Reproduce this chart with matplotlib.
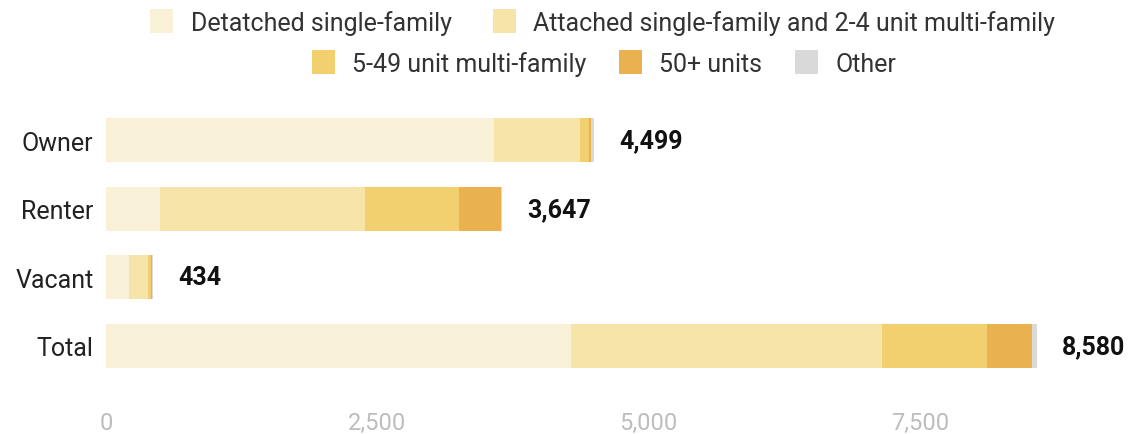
import matplotlib
matplotlib.use("Agg")
import matplotlib.pyplot as plt
import numpy as np

plt.rcParams['font.family'] = ['Roboto', 'DejaVu Sans']

# Housing units by tenure and structure type
categories = ["Owner", "Renter", "Vacant", "Total"]
series_names = [
    "Detatched single-family",
    "Attached single-family and 2-4 unit multi-family",
    "5-49 unit multi-family",
    "50+ units",
    "Other",
]
detached = [3570, 500, 210]
attached = [800, 1890, 175]
mid_multi = [80, 860, 30]
large_multi = [15, 390, 12]
other = [34, 7, 7]

colors = ["#F8F1D7", "#F7E4A9", "#F2D06F", "#EAB24F", "#D9D9D9"]
x_ticks = [0, 2500, 5000, 7500]

rows = [detached, attached, mid_multi, large_multi, other]
# Add a "Total" entry to each series
series = [np.array(r + [sum(r)], dtype=float) for r in rows]
totals = np.sum(series, axis=0)

W, H = 1133, 435
fig = plt.figure(figsize=(W / 100, H / 100), dpi=100)
ax_left, ax_right = 106, 1083
ax_top, ax_bottom = 100, 395
ax = fig.add_axes([ax_left / W, 1 - ax_bottom / H,
                   (ax_right - ax_left) / W, (ax_bottom - ax_top) / H])

y = np.arange(len(categories))
left = np.zeros(len(categories))
handles = []
for name, vals, c in zip(series_names, series, colors):
    b = ax.barh(y, vals, left=left, height=0.64, color=c, label=name,
                linewidth=0)
    handles.append(b)
    left += vals

for yi, t in zip(y, totals):
    ax.text(t + 230, yi, f"{int(round(t)):,}", va="center", ha="left",
            fontsize=18, fontweight="bold", color="#111111")

ax.set_xlim(0, 9000)
ax.set_ylim(3.7, -0.6)
ax.set_yticks(y)
ax.set_yticklabels(categories, fontsize=18, color="#222222")
ax.set_xticks(x_ticks)
ax.set_xticklabels([f"{v:,}" for v in x_ticks], fontsize=17, color="#BDBDBD")
ax.tick_params(axis="both", length=0)
ax.tick_params(axis="y", pad=9)
ax.tick_params(axis="x", pad=12)
for s in ax.spines.values():
    s.set_visible(False)

leg_kw = dict(frameon=False, fontsize=18, handlelength=0.92, handleheight=1.05,
              handletextpad=0.7, labelcolor="#333333")
leg1 = fig.legend(handles[:2], series_names[:2], loc="center",
                  bbox_to_anchor=(0.532, 1 - 23 / H), ncol=2,
                  columnspacing=1.65, **leg_kw)
leg2 = fig.legend(handles[2:], series_names[2:], loc="center",
                  bbox_to_anchor=(0.533, 1 - 64 / H), ncol=3,
                  columnspacing=1.3, **leg_kw)

fig.savefig("out.png", dpi=100)
